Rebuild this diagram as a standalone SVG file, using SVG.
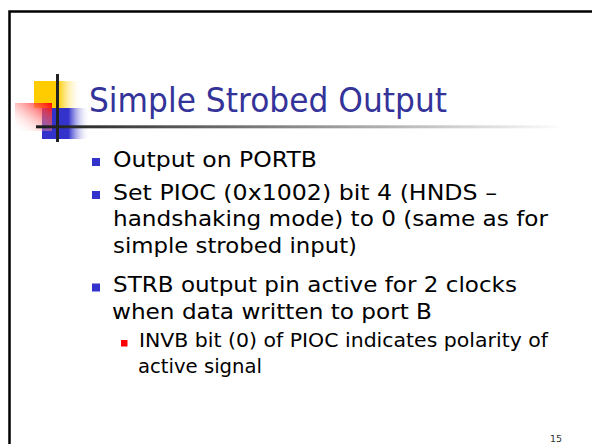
<svg xmlns="http://www.w3.org/2000/svg" width="592" height="444" viewBox="0 0 592 444">
<style>
.title{font-family:"DejaVu Sans",Verdana,sans-serif;font-size:33px;fill:#333399}
.body{font-family:"DejaVu Sans",Verdana,sans-serif;font-size:22px;fill:#000}
.sub{font-family:"DejaVu Sans",Verdana,sans-serif;font-size:19px;fill:#000}
.num{font-family:"DejaVu Sans",Verdana,sans-serif;font-size:9.5px;fill:#333}
.b1{fill:#3333CC}
.b2{fill:#FF0000}
</style>
<defs>
<linearGradient id="gy" x1="0" y1="0" x2="1" y2="0">
<stop offset="0" stop-color="#FFCC00"/>
<stop offset="0.5" stop-color="#FFCC00"/>
<stop offset="1" stop-color="#FFFFFF" stop-opacity="0"/>
</linearGradient>
<linearGradient id="gb" x1="0" y1="0" x2="1" y2="0">
<stop offset="0" stop-color="#3333CC"/>
<stop offset="0.55" stop-color="#3333CC"/>
<stop offset="1" stop-color="#FFFFFF" stop-opacity="0"/>
</linearGradient>
<linearGradient id="gr" x1="1" y1="0" x2="0" y2="1">
<stop offset="0" stop-color="#FF0000"/>
<stop offset="1" stop-color="#FFFFFF" stop-opacity="0"/>
</linearGradient>
<linearGradient id="gl" gradientUnits="userSpaceOnUse" x1="36" y1="0" x2="565" y2="0">
<stop offset="0" stop-color="#1a1a1a"/>
<stop offset="1" stop-color="#FFFFFF"/>
</linearGradient>
</defs>
<rect x="0" y="0" width="592" height="444" fill="#FFFFFF"/>
<path d="M9.5 450 V11.5 H600" fill="none" stroke="#000" stroke-width="2.5"/>
<g id="logo">
<rect x="34" y="81" width="48" height="27" fill="url(#gy)"/>
<rect x="42" y="108" width="48" height="31" fill="url(#gb)"/>
<rect x="15" y="103" width="37" height="28" fill="url(#gr)"/>
<rect x="36" y="125.3" width="529" height="3" fill="url(#gl)"/>
<rect x="56" y="74" width="3" height="68" fill="#222"/>
</g>
<g id="title">
<text class="title" x="89" y="112" textLength="358" lengthAdjust="spacingAndGlyphs">Simple Strobed Output</text>
</g>
<g id="bullets">
<rect class="b1" x="92" y="158" width="8" height="8"/>
<text class="body" x="113" y="166.5" textLength="204" lengthAdjust="spacingAndGlyphs">Output on PORTB</text>
<rect class="b1" x="92" y="191" width="8" height="8"/>
<text class="body" x="113" y="199.5" textLength="384" lengthAdjust="spacingAndGlyphs">Set PIOC (0x1002) bit 4 (HNDS –</text>
<text class="body" x="113" y="226" textLength="435" lengthAdjust="spacingAndGlyphs">handshaking mode) to 0 (same as for</text>
<text class="body" x="113" y="252.5" textLength="244" lengthAdjust="spacingAndGlyphs">simple strobed input)</text>
<rect class="b1" x="92" y="283.5" width="8" height="8"/>
<text class="body" x="113" y="292" textLength="404" lengthAdjust="spacingAndGlyphs">STRB output pin active for 2 clocks</text>
<text class="body" x="112" y="318.5" textLength="320" lengthAdjust="spacingAndGlyphs">when data written to port B</text>
<rect class="b2" x="121" y="340" width="6.5" height="6.5"/>
<text class="sub" x="139" y="347" textLength="409" lengthAdjust="spacingAndGlyphs">INVB bit (0) of PIOC indicates polarity of</text>
<text class="sub" x="138" y="372.5" textLength="124" lengthAdjust="spacingAndGlyphs">active signal</text>
</g>
<text class="num" x="550" y="442">15</text>
</svg>
